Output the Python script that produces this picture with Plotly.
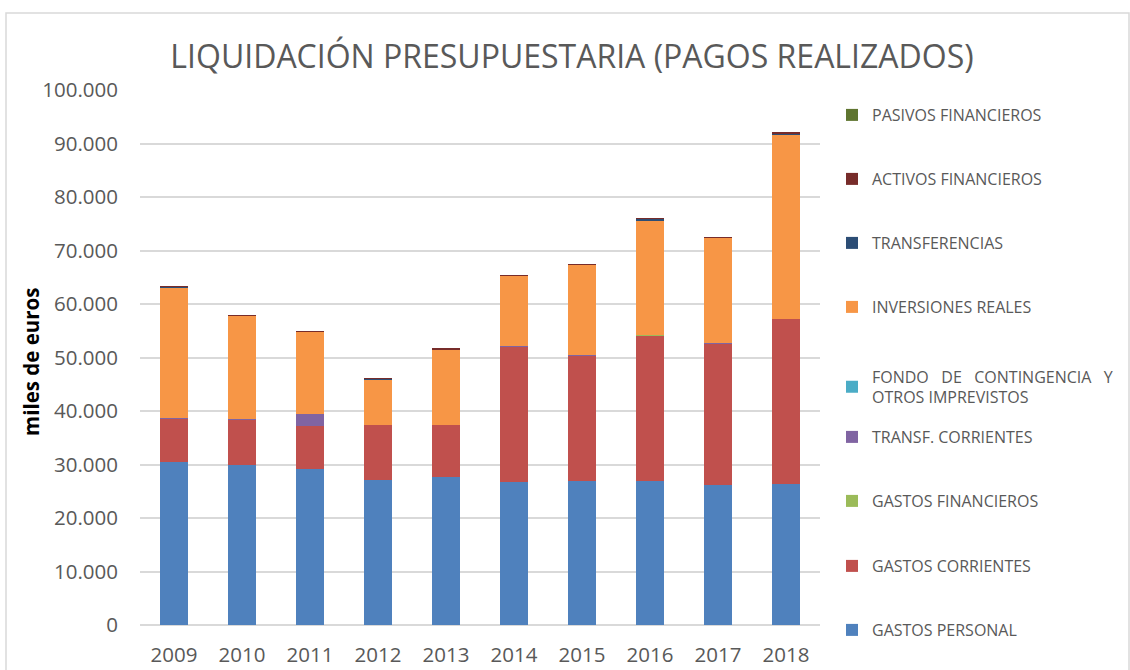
import plotly.graph_objects as go

years = ["2009", "2010", "2011", "2012", "2013", "2014", "2015", "2016", "2017", "2018"]

# values in miles de euros (thousands)
gastos_personal = [30500, 30000, 29200, 27100, 27700, 26800, 26900, 26900, 26200, 26400]
gastos_corrientes = [8100, 8400, 8000, 10300, 9700, 25300, 23500, 27300, 26400, 30800]
gastos_financieros = [80, 60, 60, 60, 40, 15, 15, 15, 15, 15]
transf_corrientes = [30, 10, 2150, 10, 10, 10, 10, 10, 10, 10]
fondo_contingencia = [0, 0, 0, 0, 0, 0, 0, 0, 0, 0]
inversiones_reales = [24300, 19300, 15400, 8500, 14100, 13150, 16950, 21450, 19750, 34450]
transferencias = [250, 30, 30, 30, 30, 30, 30, 250, 30, 250]
activos_financieros = [60, 60, 60, 60, 60, 60, 60, 60, 60, 60]
pasivos_financieros = [0, 0, 0, 0, 0, 0, 0, 0, 0, 0]

NB = "\u00a0"
GAP = NB * 3
series = [
    ("GASTOS PERSONAL", gastos_personal, "#4F81BD"),
    ("GASTOS CORRIENTES", gastos_corrientes, "#C0504D"),
    ("GASTOS FINANCIEROS", gastos_financieros, "#9BBB59"),
    ("TRANSF. CORRIENTES", transf_corrientes, "#8064A2"),
    (f"FONDO{GAP}DE{GAP}CONTINGENCIA{GAP}Y<br>OTROS IMPREVISTOS",
     fondo_contingencia, "#4BACC6"),
    ("INVERSIONES REALES", inversiones_reales, "#F79646"),
    ("TRANSFERENCIAS", transferencias, "#2C4D75"),
    ("ACTIVOS FINANCIEROS", activos_financieros, "#772C2A"),
    ("PASIVOS FINANCIEROS", pasivos_financieros, "#5F7530"),
]

# pixel geometry of the plot area
W, H = 1130, 670
L, R, T, B = 140, 820, 90, 625

def py(y_px):
    return (B - y_px) / (B - T)

def px(x_px):
    return (x_px - L) / (R - L)

legend_y_px = [630, 566, 501, 437, 387, 307, 243, 179, 115]

fig = go.Figure()
layout_legends = {}
for i, (name, vals, col) in enumerate(series):
    lname = "legend" if i == 0 else f"legend{i + 1}"
    fig.add_trace(go.Bar(
        x=years, y=vals, name=name,
        marker=dict(color=col, line=dict(width=0)),
        legend=lname,
    ))
    layout_legends[lname] = dict(
        x=px(832), xanchor="left",
        y=py(legend_y_px[i]), yanchor="middle",
        font=dict(family="Open Sans, sans-serif", size=16, color="#595959"),
        bgcolor="rgba(0,0,0,0)", borderwidth=0,
        itemclick=False, itemdoubleclick=False,
    )

fig.update_layout(
    width=W, height=H,
    margin=dict(l=L, r=W - R, t=T, b=H - B, pad=0, autoexpand=False),
    barmode="stack",
    bargap=0.6,
    separators=",.",
    paper_bgcolor="white",
    plot_bgcolor="white",
    showlegend=True,
    title=dict(
        text="LIQUIDACIÓN PRESUPUESTARIA (PAGOS REALIZADOS)",
        x=572 / W, xanchor="center",
        y=1 - 57 / H, yanchor="middle",
        font=dict(family="Open Sans, sans-serif", size=32, color="#595959"),
    ),
    font=dict(family="Open Sans, sans-serif", color="#595959"),
    xaxis=dict(
        showgrid=False, showline=False, zeroline=False,
        tickfont=dict(size=20.5, color="#595959"),
        ticks="", ticklabelstandoff=15,
    ),
    yaxis=dict(
        range=[0, 100000], dtick=10000, tickformat=",d",
        showgrid=True, gridcolor="#D9D9D9", gridwidth=1.5,
        zeroline=True, zerolinecolor="#D9D9D9", zerolinewidth=1.5,
        showline=False,
        tickfont=dict(size=20.5, color="#595959"),
        ticks="", ticklabelstandoff=21,
    ),
    annotations=[dict(
        text="<b>miles de euros</b>", textangle=-90,
        xref="paper", yref="paper",
        x=px(31), y=py(362), xanchor="center", yanchor="middle",
        showarrow=False,
        font=dict(family="Open Sans, sans-serif", size=20.5, color="black"),
    )],
    shapes=[dict(
        type="rect", xref="paper", yref="paper",
        x0=px(6), x1=px(1129), y0=py(674), y1=py(13),
        line=dict(color="#D9D9D9", width=1.5), fillcolor="rgba(0,0,0,0)",
        layer="below",
    )],
    **layout_legends,
)

fig.write_html(
    "out.html",
    config={"displayModeBar": False},
    post_script="document.body.style.margin='0';document.body.style.padding='0';",
)
